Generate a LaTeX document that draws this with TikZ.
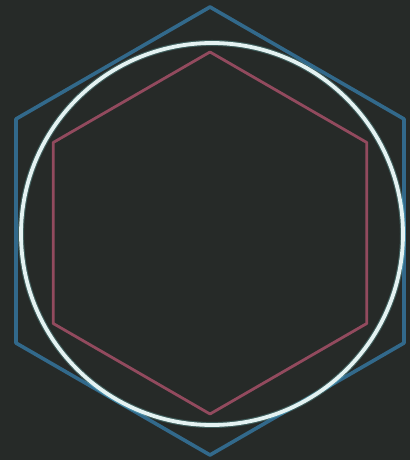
\documentclass[tikz,border=0pt]{standalone}
\usepackage{xcolor}
\usepackage{tikz}
\definecolor{tableauNoir}{RGB}{38,42,40}
\definecolor{craieBleue}{RGB}{52,112,150}
\definecolor{craieBlanche}{RGB}{228,242,242}
\definecolor{craieRouge}{RGB}{158,78,100}

\begin{document}
\begin{tikzpicture}[x=1pt, y=1pt, line join=round]

% Fond
\fill[tableauNoir] (0,0) rectangle (410,460);
\useasboundingbox (0,0) rectangle (410,460);

% Hexagone circonscrit
\draw[craieBleue, line width=3.6pt, opacity=0.9] ([shift={(210,229)}]90:224) -- ([shift={(210,229)}]150:224)
  -- ([shift={(210,229)}]210:224) -- ([shift={(210,229)}]270:224)
  -- ([shift={(210,229)}]330:224) -- ([shift={(210,229)}]30:224) -- cycle;

% Cercle
\draw[craieBlanche!60!cyan, line width=6pt, opacity=0.25] (212,226) circle (191);
\draw[craieBlanche, line width=3.8pt] (212,226) circle (191);

% Hexagone inscrit
\draw[craieRouge, line width=2.8pt, opacity=0.9] ([shift={(210,227)}]90:181) -- ([shift={(210,227)}]150:181)
  -- ([shift={(210,227)}]210:181) -- ([shift={(210,227)}]270:181)
  -- ([shift={(210,227)}]330:181) -- ([shift={(210,227)}]30:181) -- cycle;

\end{tikzpicture}
\end{document}
